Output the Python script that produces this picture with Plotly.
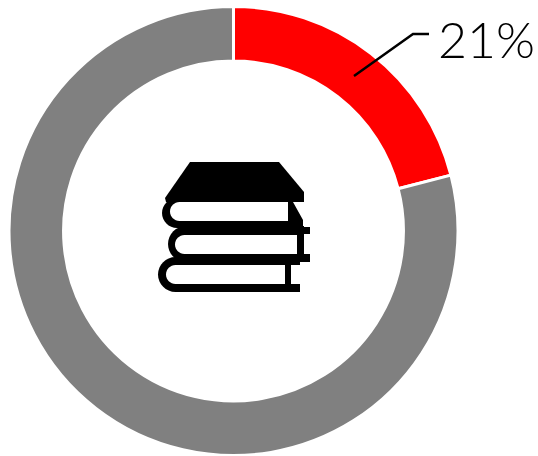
import plotly.graph_objects as go

W, H = 538, 456
labels = ["Share", "Rest"]
values = [21, 79]
colors = ["#ff0000", "#808080"]
label_text = "21%"


def X(v):
    return v / W


def Y(v):
    return 1 - v / H


def path(*cmds):
    out = []
    for c in cmds:
        if isinstance(c, str):
            out.append(c)
        else:
            out.append(f"{X(c[0]):.5f},{Y(c[1]):.5f}")
    return " ".join(out)


def rounded(left, top, right, bottom):
    r = (bottom - top) / 2
    m = (top + bottom) / 2
    return path("M", (right, top), "L", (left + r, top),
                "C", (left + r * 0.45, top), (left, top + r * 0.45), (left, m),
                "C", (left, bottom - r * 0.45), (left + r * 0.45, bottom), (left + r, bottom),
                "L", (right, bottom), "Z")


def poly(*pts):
    cmds = ["M", pts[0]]
    for p in pts[1:]:
        cmds += ["L", p]
    cmds.append("Z")
    return path(*cmds)


black = [
    poly((190, 162), (279, 162), (304, 192), (304, 202), (166, 202), (165, 198)),
    rounded(162, 198, 292, 228),
    poly((288, 202), (293, 202), (303, 220), (303, 227), (310, 227), (310, 234), (288, 234)),
    rounded(168, 226, 304, 262),
    poly((296, 232), (304, 232), (304, 254), (310, 254), (310, 262), (296, 262)),
    poly((176, 260), (300, 260), (300, 265), (176, 265)),
    rounded(158, 257, 291, 292),
    poly((284, 262), (291, 262), (291, 284), (300, 284), (300, 292), (284, 292)),
]
white = [
    rounded(170, 202, 288, 221),
    rounded(175, 235, 297, 254),
    rounded(166, 265, 285, 284),
]

shapes = [dict(type="path", path=p, xref="paper", yref="paper", fillcolor="#000000",
               line=dict(width=0), layer="above") for p in black]
shapes += [dict(type="path", path=p, xref="paper", yref="paper", fillcolor="#ffffff",
                line=dict(width=0), layer="above") for p in white]
shapes.append(dict(type="path", path=path("M", (354, 76), "L", (413, 34), "L", (429, 34)),
                   xref="paper", yref="paper", line=dict(color="#000000", width=2.5),
                   layer="above"))

fig = go.Figure(go.Pie(
    labels=labels,
    values=values,
    hole=0.757,
    sort=False,
    direction="clockwise",
    rotation=0,
    textinfo="none",
    hoverinfo="label+percent",
    marker=dict(colors=colors, line=dict(color="#ffffff", width=3)),
    domain=dict(x=[X(8.5), X(458.5)], y=[Y(455.5), Y(6.5)]),
    showlegend=False,
))
fig.update_layout(
    width=W, height=H,
    margin=dict(l=0, r=0, t=0, b=0),
    paper_bgcolor="#ffffff",
    shapes=shapes,
    annotations=[dict(text=label_text, x=X(486), y=Y(39), xref="paper", yref="paper",
                      xanchor="center", yanchor="middle", showarrow=False,
                      font=dict(family="Lato Light, Lato, sans-serif", size=50, color="#000000"))],
)
fig.write_html("out.html", config=dict(displayModeBar=False),
               post_script="document.body.style.margin='0';document.body.style.overflow='hidden';")
